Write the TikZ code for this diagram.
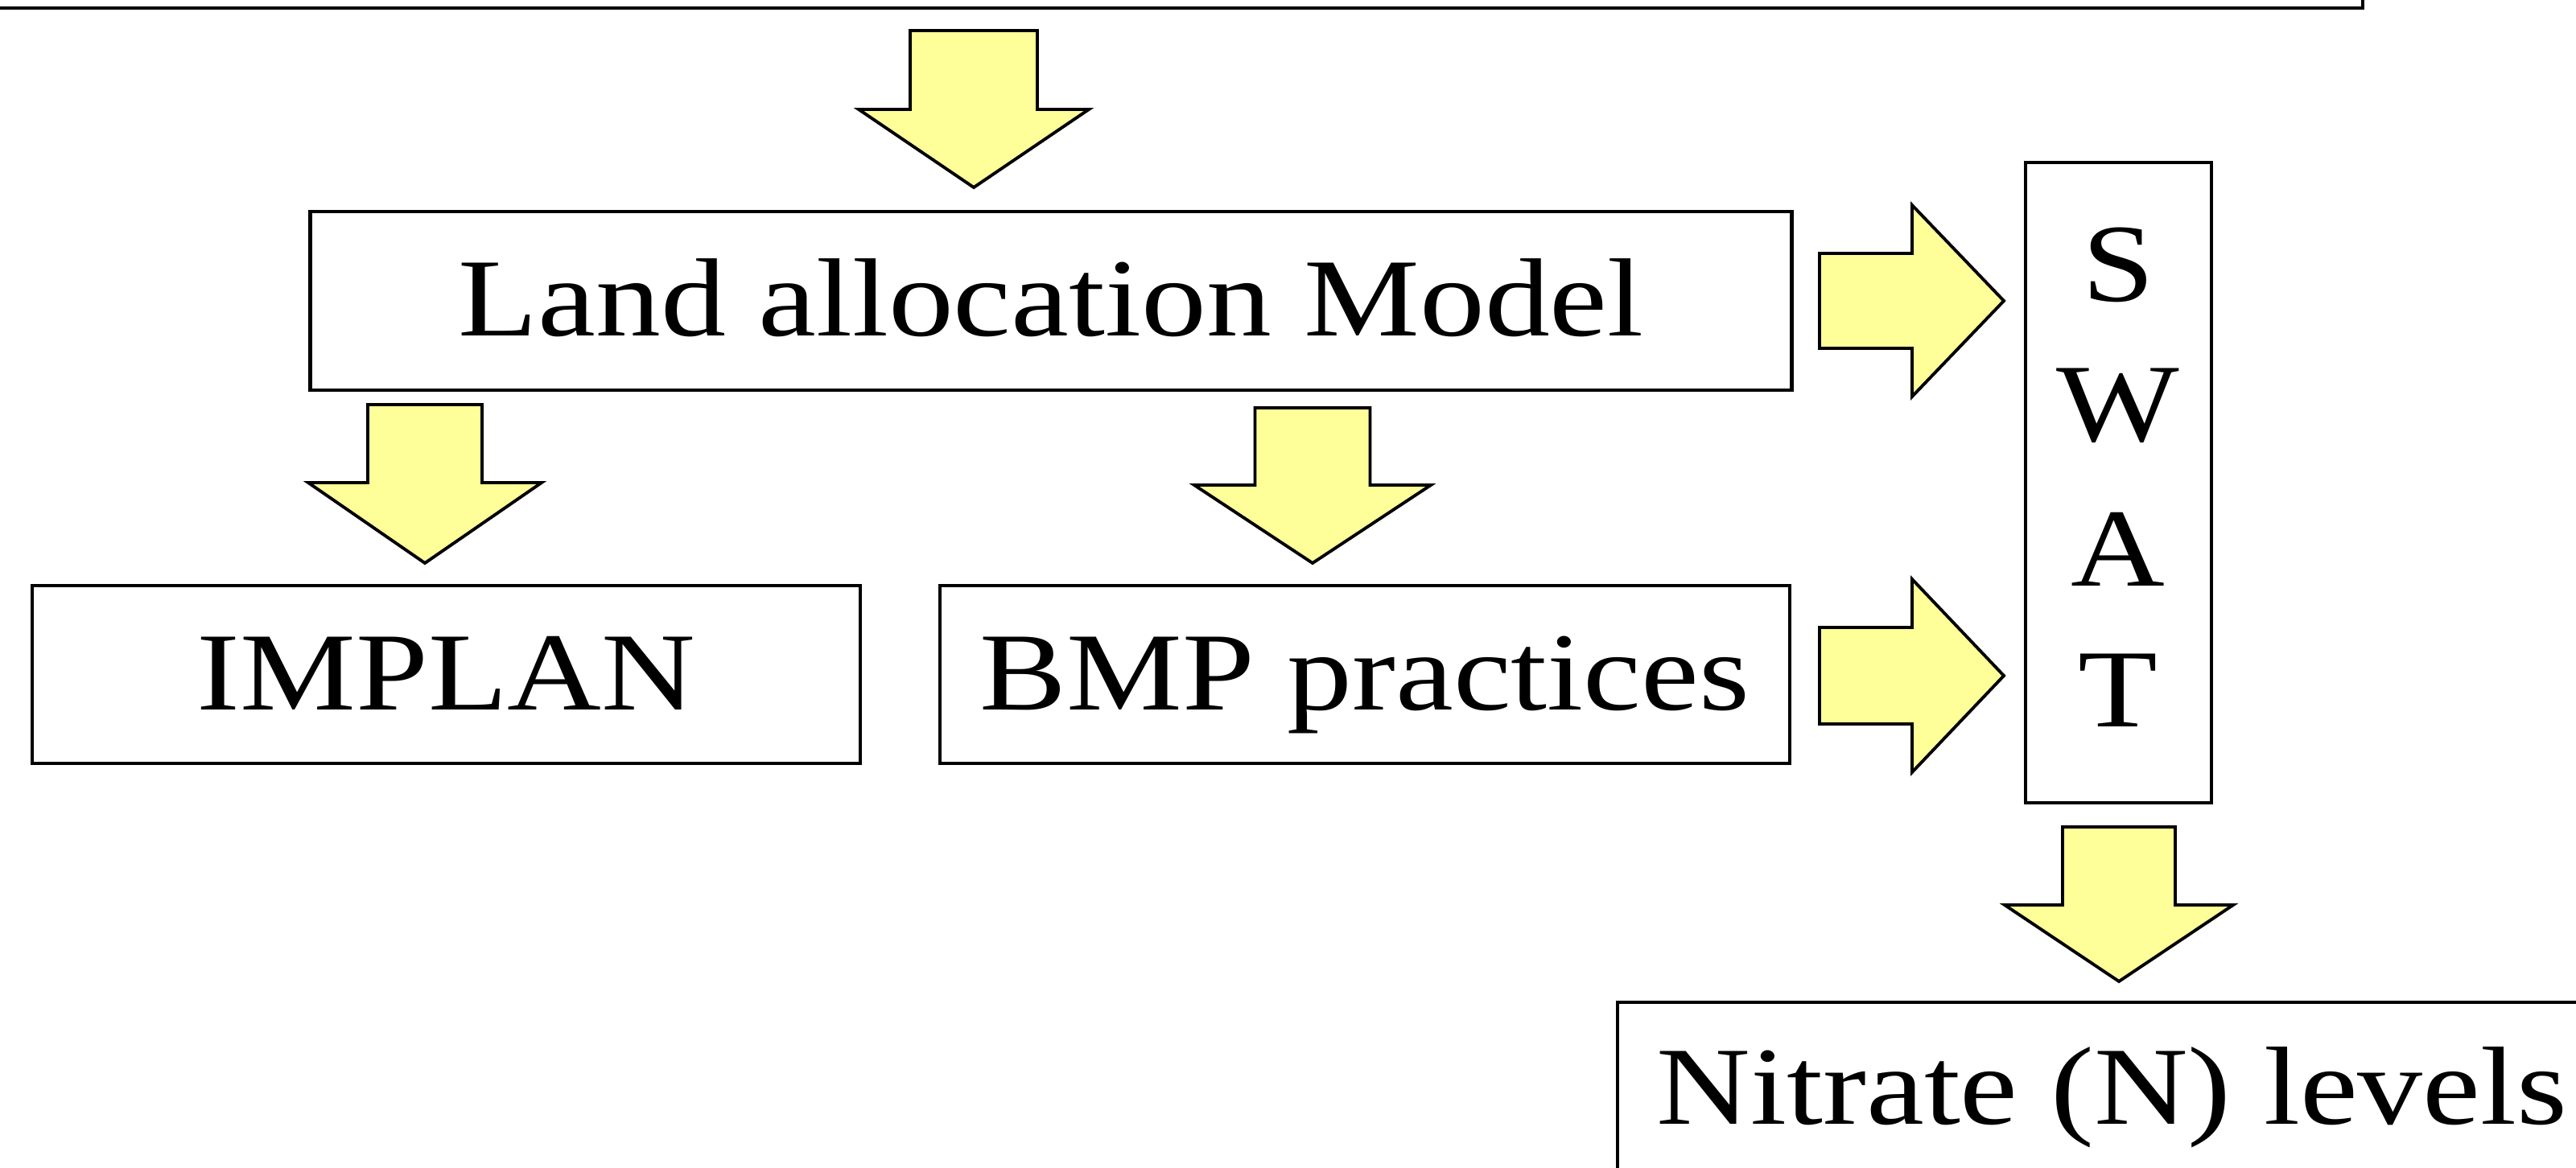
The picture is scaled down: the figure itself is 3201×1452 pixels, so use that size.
\documentclass[tikz,border=0pt]{standalone}
\usepackage{fontspec}
\setmainfont{Liberation Serif}[FakeStretch=1.17]
\definecolor{arrowfill}{HTML}{FFFF99}
\tikzset{
  px/.style={x=0.01cm,y=-0.01cm},
  boxnode/.style={draw=black,line width=1.2pt,fill=white,inner sep=0pt,rectangle,
     text height=0.87cm,text depth=0pt,font=\fontsize{39.3pt}{47pt}\selectfont},
  lbl/.style={inner sep=0pt,anchor=base,font=\fontsize{39.3pt}{47pt}\selectfont},
  blockarrow/.style={draw=black,line width=1.1pt,fill=arrowfill,line join=miter}
}
% down arrow: #1 xc, #2 ytop, #3 yshoulder, #4 ytip, #5 shaft half, #6 head half
\newcommand\downblock[6]{%
  \draw[blockarrow] (#1-#5,#2) -- (#1+#5,#2) -- (#1+#5,#3) -- (#1+#6,#3) -- (#1,#4)
     -- (#1-#6,#3) -- (#1-#5,#3) -- cycle;}
% right arrow: #1 yc, #2 xleft, #3 xshoulder, #4 xtip, #5 shaft half, #6 head half
\newcommand\rightblock[6]{%
  \draw[blockarrow] (#2,#1-#5) -- (#3,#1-#5) -- (#3,#1-#6) -- (#4,#1) -- (#3,#1+#6)
     -- (#3,#1+#5) -- (#2,#1+#5) -- cycle;}
\begin{document}
\begin{tikzpicture}[px]
\useasboundingbox (0,0) rectangle (3201,1452);
\clip (0,0) rectangle (3201,1452);
\fill[white] (0,0) rectangle (3201,1452);

% top box (mostly outside the picture)
\node[boxnode,minimum width=29.64cm,minimum height=3cm] (top) at (1453,-140) {};

% boxes
\node[boxnode,minimum width=18.40cm,minimum height=2.22cm] (land) at (1306,374) {Land allocation Model};
\node[boxnode,minimum width=10.29cm,minimum height=2.21cm] (implan) at (554.5,838.5) {IMPLAN};
\node[boxnode,minimum width=10.56cm,minimum height=2.21cm] (bmp) at (1696,838.5) {BMP practices};
\node[boxnode,minimum width=2.31cm,minimum height=7.96cm] (swat) at (2632.5,600) {};
\node[boxnode,minimum width=12.40cm,minimum height=2.60cm] (nitrate) at (2630,1376) {};

% labels
\node[lbl] (s) at (2632,375) {S};
\node[lbl] (w) at (2632,548) {W};
\node[lbl] (a) at (2632,728) {A};
\node[lbl] (t) at (2632,903) {T};
\node[lbl,anchor=base west] (nlabel) at (2058,1397) {Nitrate (N) levels};

% block arrows
\downblock{1210}{38}{136}{233}{79}{143}
\downblock{528}{503}{600}{700}{71}{145}
\downblock{1631}{507}{603}{700}{71.5}{147}
\downblock{2633}{1028}{1125}{1220}{70}{142}
\rightblock{374}{2261}{2376}{2490}{59}{119}
\rightblock{840}{2261}{2376}{2490}{60}{120}
\end{tikzpicture}
\end{document}
